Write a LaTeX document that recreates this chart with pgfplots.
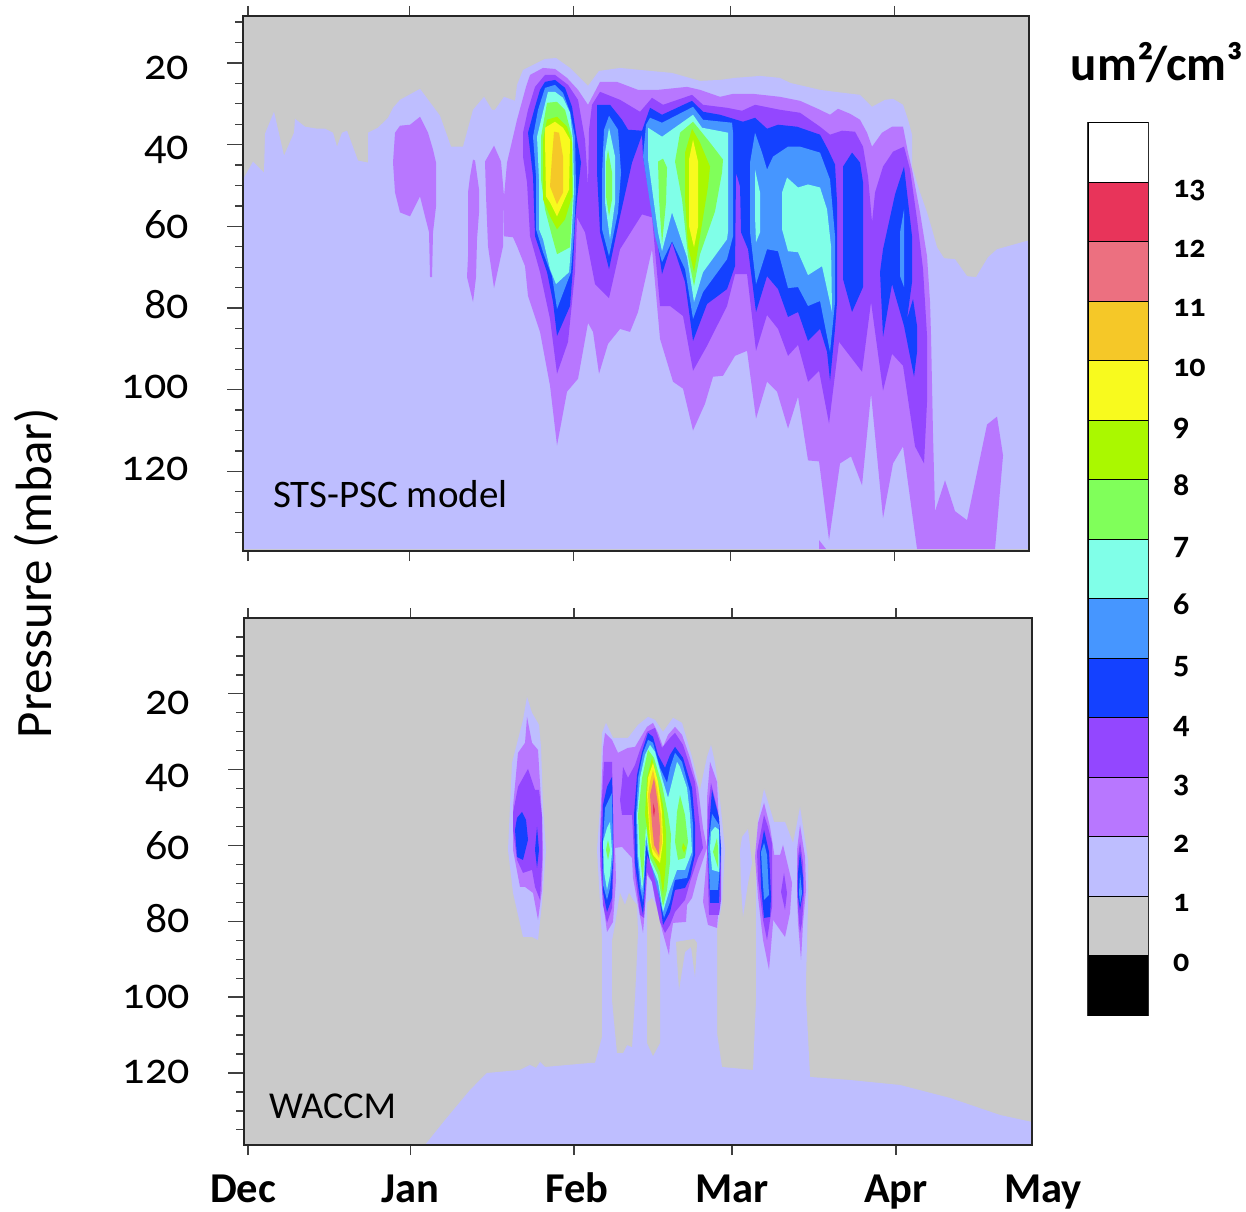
\documentclass[border=0pt]{standalone}
\usepackage{pgfplots}
\pgfplotsset{compat=1.18}
\usepackage{fontspec}
\setmainfont[Numbers=OldStyle]{Carlito}
\definecolor{c0}{HTML}{000000}
\definecolor{c1}{HTML}{CACACA}
\definecolor{c2}{HTML}{BEBEFF}
\definecolor{c3}{HTML}{B877FF}
\definecolor{c4}{HTML}{9347FF}
\definecolor{c5}{HTML}{1441FF}
\definecolor{c6}{HTML}{4696FF}
\definecolor{c7}{HTML}{80FFE8}
\definecolor{c8}{HTML}{80FF5A}
\definecolor{c9}{HTML}{AAF800}
\definecolor{c10}{HTML}{F8FA1E}
\definecolor{c11}{HTML}{F5C828}
\definecolor{c12}{HTML}{EC7080}
\definecolor{c13}{HTML}{E8345A}
\definecolor{c14}{HTML}{FFFFFF}
\definecolor{tk}{HTML}{404040}
\newcommand{\fs}[1]{\fontsize{#1}{#1}\selectfont}
\newcommand{\rb}[2]{\raisebox{#1pt}{#2}}
\pgfplotsset{
  lv/.style={fill=c#1,draw=none,no markers,forget plot},
  panel/.style={scale only axis,clip=true,axis line style={line width=1.3pt,color=black!85},
    tick style={line width=1.3pt,color=tk},tick align=outside},
  ypanel/.style={ytick={20,40,60,80,100,120},
    minor ytick={10,15,25,30,35,45,50,55,65,70,75,85,90,95,105,110,115,125,130,135},
    ytick pos=left,xtick=\empty,major tick length=16pt,minor tick length=8pt,y dir=reverse,
    yticklabel style={font=\fs{44},anchor=base east,inner sep=0pt,xshift=-38pt,yshift=-15pt}},
  xpanel/.style={ytick=\empty,xtick pos=both,major tick length=10pt,xticklabels={},y dir=reverse,
    axis background/.style={fill=none}}
}
\begin{document}
\begin{tikzpicture}[x=1pt,y=1pt]
\useasboundingbox (0,0) rectangle (1246,1211);
% ---------- upper panel: coordinates digitised as (px,py), mapped to days and mbar by the filters
\begin{axis}[at={(243pt,660pt)},anchor=south west,width=786pt,height=535pt,panel,ypanel,
  yticklabels={\rb{-2}{20},\rb{0}{40},\rb{3}{60},\rb{5}{80},\rb{6}{100},\rb{6}{120}},
  xmin=-0.94,xmax=146.25,ymin=8.5,ymax=139.5,
  axis background/.style={fill=c1},
  x filter/.expression={(x-248)/5.34},y filter/.expression={20+(y-63)/4.1}]
\addplot[lv=2] coordinates {(243,180)(253,162)(264,173)(265,134)(274,112)(284,156)(294,133)(295,119)(305,127)(317,129)(325,129)(333,133)(337,147)(342,133)(347,131)(358,161)(368,163)(368,133)(378,128)(388,118)(393,108)(400,100)(420,89)(440,116)(451,147)(463,147)(473,110)(484,97)(492,110)(495,110)(504,97)(515,101)(517,85)(523,70)(545,59)(556,58)(570,68)(588,86)(599,71)(620,68)(640,70)(672,73)(700,81)(720,80)(735,78)(760,76)(780,78)(790,83)(820,90)(835,92)(860,95)(872,107)(885,100)(893,99)(903,105)(908,120)(912,135)(912,167)(920,193)(927,213)(932,230)(937,248)(944,259)(955,260)(967,277)(976,278)(988,258)(997,250)(1029,241)(1029,551)(243,551)};
\addplot[lv=3] coordinates {(400,126)(410,125)(420,117)(428,133)(433,150)(436,163)(436,207)(433,233)(432,278)(430,278)(429,233)(420,197)(410,217)(400,213)(395,193)(393,163)(395,133)};
\addplot[lv=3] coordinates {(473,160)(475,161)(479,190)(479,213)(477,240)(476,278)(473,303)(467,278)(468,257)(468,193)(470,177)};
\addplot[lv=3] coordinates {(494,146)(501,162)(504,197)(503,247)(494,289)(488,247)(486,197)(485,162)};
\addplot[lv=3] coordinates {(507,163)(517,120)(526,87)(530,75)(543,68)(555,69)(567,78)(578,90)(588,105)(600,82)(617,82)(638,90)(658,90)(687,87)(700,90)(720,97)(733,94)(753,94)(780,97)(800,101)(820,110)(830,115)(838,109)(850,114)(860,120)(867,133)(872,147)(882,133)(892,127)(903,127)(908,153)(912,170)(920,213)(927,257)(930,303)(931,337)(933,437)(935,513)(945,482)(955,513)(967,522)(987,426)(997,418)(1003,457)(995,551)(917,551)(903,448)(893,465)(883,520)(871,395)(862,487)(851,458)(840,465)(829,542)(819,463)(808,462)(798,398)(788,430)(777,393)(767,383)(756,420)(747,352)(735,357)(723,377)(713,378)(705,405)(693,432)(683,390)(673,383)(660,340)(652,250)(638,313)(630,333)(620,330)(608,345)(599,375)(593,333)(588,324)(578,380)(567,393)(557,447)(550,387)(540,333)(528,297)(525,267)(517,247)(513,238)(504,237)(504,197)};
\addplot[lv=3] coordinates {(819,542)(826,551)(819,551)};
\addplot[lv=4] coordinates {(545,75)(555,75)(568,85)(578,100)(585,140)(588,187)(589,130)(592,105)(600,92)(620,100)(640,112)(652,98)(663,105)(692,95)(703,105)(727,108)(742,111)(755,105)(780,110)(800,113)(820,127)(830,135)(842,131)(855,132)(863,147)(868,177)(872,223)(875,193)(883,167)(893,152)(904,147)(910,170)(917,220)(923,270)(927,337)(927,403)(924,465)(915,448)(903,367)(892,355)(883,392)(871,303)(862,373)(839,343)(829,425)(819,372)(808,383)(798,346)(788,357)(778,330)(767,316)(756,352)(747,275)(735,275)(727,307)(707,347)(693,372)(683,317)(670,307)(660,307)(652,218)(642,215)(620,250)(609,299)(595,285)(585,233)(577,218)(575,273)(568,343)(557,375)(550,320)(540,273)(530,237)(527,183)(523,157)(523,133)(528,110)(535,87)};
\addplot[lv=5] coordinates {(545,82)(555,80)(565,88)(572,107)(577,140)(581,163)(577,200)(575,223)(573,267)(570,307)(557,337)(553,303)(547,273)(535,237)(533,177)(528,133)(535,107)(540,90)};
\addplot[lv=5] coordinates {(597,105)(610,105)(622,120)(628,130)(642,131)(650,108)(662,115)(692,101)(703,112)(720,115)(743,122)(755,118)(767,129)(778,125)(797,127)(820,135)(828,150)(835,165)(837,203)(837,303)(835,330)(830,382)(827,353)(820,330)(808,342)(798,313)(788,318)(778,290)(767,277)(756,313)(748,250)(741,233)(740,187)(736,173)(735,267)(727,290)(707,305)(693,342)(685,283)(672,243)(662,275)(657,240)(643,157)(642,135)(632,163)(620,217)(609,270)(600,233)(597,173)};
\addplot[lv=5] coordinates {(852,153)(860,163)(863,183)(863,288)(852,313)(843,280)(843,167)};
\addplot[lv=5] coordinates {(904,167)(912,237)(912,283)(907,320)(913,300)(917,327)(917,353)(914,378)(904,327)(892,285)(883,338)(880,273)(883,250)(895,195)};
\addplot[lv=6] coordinates {(545,88)(555,85)(563,93)(570,112)(575,137)(576,190)(574,233)(571,273)(557,310)(552,277)(543,253)(536,230)(536,177)(533,137)(538,110)};
\addplot[lv=6] coordinates {(609,116)(618,130)(621,173)(618,213)(609,257)(602,230)(602,173)(604,130)};
\addplot[lv=6] coordinates {(650,118)(662,123)(693,107)(703,120)(732,123)(733,133)(733,237)(727,260)(703,293)(693,320)(685,270)(672,242)(662,263)(655,237)(643,157)(646,125)};
\addplot[lv=6] coordinates {(755,133)(762,153)(767,170)(773,157)(788,147)(800,147)(820,153)(830,180)(835,237)(835,303)(830,353)(820,302)(808,307)(798,288)(788,289)(778,252)(767,250)(756,285)(750,233)(750,163)};
\addplot[lv=6] coordinates {(904,210)(904,288)(900,277)(900,233)};
\addplot[lv=7] coordinates {(548,92)(555,92)(563,98)(570,113)(573,140)(574,190)(571,248)(569,273)(556,285)(550,270)(543,240)(539,230)(539,180)(537,137)(543,112)};
\addplot[lv=7] coordinates {(609,128)(615,157)(615,203)(610,240)(605,203)(605,153)};
\addplot[lv=7] coordinates {(648,128)(662,137)(693,115)(702,128)(728,133)(728,232)(727,240)(703,273)(694,303)(687,258)(672,213)(662,252)(658,233)(648,160)};
\addplot[lv=7] coordinates {(755,170)(760,193)(760,233)(756,243)(755,217)};
\addplot[lv=7] coordinates {(787,178)(798,188)(808,185)(820,188)(827,210)(831,247)(832,313)(822,267)(808,276)(798,253)(788,252)(782,230)(782,193)};
\addplot[lv=8] coordinates {(547,103)(557,102)(565,110)(572,137)(573,193)(570,248)(557,255)(552,237)(545,210)(541,180)(541,137)};
\addplot[lv=8] coordinates {(608,150)(612,173)(612,200)(609,217)(606,197)(606,163)};
\addplot[lv=8] coordinates {(658,162)(663,159)(667,168)(666,203)(662,245)(659,200)};
\addplot[lv=8] coordinates {(693,122)(702,133)(710,143)(723,160)(722,173)(715,212)(700,255)(694,287)(688,257)(682,200)(675,162)(680,133)};
\addplot[lv=9] coordinates {(547,120)(557,117)(567,127)(572,143)(572,197)(565,220)(557,230)(550,217)(543,200)(543,140)};
\addplot[lv=9] coordinates {(692,129)(700,143)(710,167)(708,187)(700,237)(694,273)(688,247)(685,200)(685,153)};
\addplot[lv=10] coordinates {(545,128)(555,122)(563,128)(570,140)(569,190)(557,217)(550,203)(546,197)(545,140)};
\addplot[lv=10] coordinates {(693,140)(698,162)(698,227)(694,248)(689,227)(689,160)};
\addplot[lv=11] coordinates {(554,132)(559,133)(563,157)(563,193)(557,205)(550,187)(552,157)};
\end{axis}
\begin{axis}[at={(243pt,660pt)},anchor=south west,width=786pt,height=535pt,panel,xpanel,
  xmin=-0.94,xmax=146.25,ymin=8.5,ymax=139.5,xtick={0,30.3,60.9,90.4,121}]
\end{axis}
\node[anchor=base west,inner sep=0pt,font=\fs{39}] at (273,703) {STS-PSC model};
% ---------- lower panel
\begin{axis}[at={(244pt,66pt)},anchor=south west,width=788pt,height=527pt,panel,ypanel,
  yticklabels={\rb{-6}{20},\rb{-3}{40},\rb{1}{60},\rb{4}{80},\rb{4}{100},\rb{4}{120}},
  minor ytick={5,10,15,25,30,35,45,50,55,65,70,75,85,90,95,105,110,115,125,130,135},
  xmin=-0.747,xmax=146.4,ymin=0,ymax=139,
  axis background/.style={fill=c1},
  x filter/.expression={(x-248)/5.355},y filter/.expression={20+(y-694)/3.79}]
\addplot[lv=2] coordinates {(527,697)(532,713)(539,725)(541,747)(543,807)(546,850)(542,903)(538,940)(532,937)(523,937)(513,893)(508,850)(512,763)(523,720)};
\addplot[lv=2] coordinates {(425,1145)(445,1120)(470,1090)(487,1073)(520,1070)(530,1065)(536,1068)(540,1062)(545,1067)(590,1063)(595,1063)(602,1037)(602,938)(600,903)(597,850)(600,807)(602,733)(606,723)(613,738)(628,738)(638,725)(648,717)(655,720)(663,732)(673,718)(682,723)(692,757)(700,790)(707,757)(711,745)(715,763)(720,800)(725,850)(722,903)(717,930)(717,1033)(722,1067)(753,1070)(756,1000)(756,857)(755,857)(758,820)(764,789)(774,822)(785,822)(793,843)(797,823)(800,807)(808,860)(808,903)(806,980)(806,997)(810,1077)(850,1080)(900,1085)(950,1098)(1000,1115)(1032,1122)(1032,1145)};
\addplot[lv=2] coordinates {(740,850)(742,837)(748,829)(752,863)(748,883)(743,917)(741,887)};
% gaps of the lower tongue
\addplot[lv=1] coordinates {(612,941)(615,925)(620,893)(625,905)(629,893)(633,900)(637,905)(638,933)(635,997)(632,1047)(627,1045)(623,1053)(617,1053)(612,1000)};
\addplot[lv=1] coordinates {(647,903)(652,898)(660,912)(660,1043)(653,1056)(647,1043)};
\addplot[lv=1] coordinates {(676,942)(694,939)(697,943)(695,977)(691,947)(685,952)(679,990)(677,960)};
% level 2-3
\addplot[lv=3] coordinates {(527,717)(532,743)(538,750)(542,817)(543,850)(542,890)(538,920)(533,893)(525,887)(520,887)(513,850)(513,807)(518,753)(525,743)};
\addplot[lv=3] coordinates {(605,733)(612,740)(618,753)(628,748)(635,747)(647,727)(653,723)(658,733)(663,747)(668,735)(675,727)(682,735)(690,758)(698,788)(703,828)(707,848)(698,875)(692,898)(687,905)(686,922)(673,923)(670,942)(669,955)(662,930)(655,900)(652,882)(647,875)(646,895)(643,933)(637,900)(633,878)(632,858)(622,847)(615,848)(616,880)(613,922)(607,932)(603,902)(600,865)(600,832)(603,748)};
\addplot[lv=3] coordinates {(710,762)(717,782)(720,848)(720,890)(717,928)(708,925)(703,902)(707,855)(707,798)};
\addplot[lv=3] coordinates {(764,803)(770,827)(774,853)(773,923)(769,970)(763,940)(758,897)(755,857)(758,823)};
\addplot[lv=3] coordinates {(783,845)(792,883)(790,913)(785,937)(773,920)(773,855)(780,855)};
\addplot[lv=3] coordinates {(800,825)(805,857)(806,890)(803,923)(801,960)(798,923)(797,890)(797,850)};
% level 3-4
\addplot[lv=4] coordinates {(528,769)(535,790)(539,790)(542,817)(542,863)(540,900)(535,887)(532,870)(523,873)(517,860)(513,830)(513,813)(518,787)};
\addplot[lv=4] coordinates {(604,762)(612,762)(613,815)(614,855)(612,908)(607,923)(603,905)(600,848)(602,798)};
\addplot[lv=4] coordinates {(647,732)(655,728)(662,748)(670,738)(675,733)(683,745)(695,782)(700,828)(703,848)(698,858)(690,882)(685,900)(675,912)(670,925)(665,933)(660,922)(652,882)(647,872)(644,918)(640,915)(635,875)(632,815)(622,815)(620,800)(622,782)(623,767)(628,778)(635,765)(640,750)};
\addplot[lv=4] coordinates {(711,783)(718,812)(721,848)(721,900)(719,915)(709,915)(707,848)(708,808)};
\addplot[lv=4] coordinates {(764,815)(768,827)(772,843)(772,907)(767,940)(763,920)(758,880)(757,852)};
\addplot[lv=4] coordinates {(784,873)(787,893)(785,910)(781,892)};
\addplot[lv=4] coordinates {(800,842)(803,863)(804,893)(802,923)(800,933)(798,910)(797,887)(798,857)};
% level 4-5
\addplot[lv=5] coordinates {(522,812)(526,820)(528,840)(523,860)(517,857)(515,830)(517,818)};
\addplot[lv=5] coordinates {(537,827)(539,850)(537,868)(535,850)};
\addplot[lv=5] coordinates {(612,777)(613,815)(613,858)(612,898)(607,912)(603,892)(602,848)(603,805)(607,787)};
\addplot[lv=5] coordinates {(648,733)(653,737)(658,755)(665,768)(670,755)(675,747)(683,758)(692,788)(695,825)(695,855)(690,878)(685,888)(675,890)(670,912)(663,925)(660,902)(655,873)(647,855)(646,872)(643,915)(640,900)(635,865)(634,815)(637,775)(642,752)};
\addplot[lv=5] coordinates {(712,790)(719,818)(721,848)(719,903)(710,903)(708,848)(710,815)};
\addplot[lv=5] coordinates {(764,830)(769,852)(771,897)(770,917)(764,918)(761,887)(760,853)};
\addplot[lv=5] coordinates {(800,852)(803,877)(803,893)(800,910)(798,897)(798,873)};
% level 5-6
\addplot[lv=6] coordinates {(612,793)(613,858)(610,888)(607,900)(603,885)(603,842)(605,808)};
\addplot[lv=6] coordinates {(648,740)(653,743)(660,768)(667,783)(670,768)(675,753)(682,762)(690,792)(693,825)(693,855)(687,878)(675,880)(670,902)(664,918)(658,892)(652,868)(646,845)(644,888)(643,902)(640,888)(637,855)(636,815)(638,778)(643,753)};
\addplot[lv=6] coordinates {(712,814)(719,825)(720,865)(718,890)(710,890)(708,848)};
\addplot[lv=6] coordinates {(764,843)(767,855)(769,895)(764,900)(762,870)(761,852)};
\addplot[lv=6] coordinates {(800,873)(802,893)(800,905)(799,893)};
% level 6-7
\addplot[lv=7] coordinates {(610,822)(612,852)(610,875)(607,890)(604,872)(603,842)(607,828)};
\addplot[lv=7] coordinates {(650,745)(655,752)(662,778)(668,798)(672,782)(677,762)(680,767)(687,788)(690,815)(692,852)(685,870)(677,870)(669,892)(663,912)(658,882)(650,862)(646,835)(644,875)(642,892)(638,855)(637,815)(640,778)(645,755)};
\addplot[lv=7] coordinates {(715,827)(719,830)(719,872)(712,870)(710,848)(711,832)};
% level 7-8
\addplot[lv=8] coordinates {(608,840)(610,850)(608,860)(606,850)};
\addplot[lv=8] coordinates {(648,750)(654,758)(662,785)(668,815)(671,835)(670,862)(667,890)(663,907)(658,875)(650,858)(646,825)(644,858)(643,885)(640,855)(638,815)(642,778)};
\addplot[lv=8] coordinates {(680,795)(685,815)(688,842)(685,858)(678,860)(675,842)(677,812)};
\addplot[lv=8] coordinates {(717,838)(718,848)(718,868)(713,852)};
% level 8-9 and above
\addplot[lv=9] coordinates {(652,758)(657,778)(663,805)(666,832)(666,862)(663,895)(660,872)(650,852)(647,828)(645,815)(647,778)};
\addplot[lv=9] coordinates {(683,843)(686,848)(684,853)(682,848)};
\addplot[lv=10] coordinates {(653,763)(658,782)(662,812)(663,842)(660,863)(653,855)(650,842)(647,795)(648,778)};
\addplot[lv=11] coordinates {(653,770)(657,788)(661,815)(662,843)(659,858)(652,848)(650,828)(648,795)(650,782)};
\addplot[lv=12] coordinates {(654,778)(658,805)(660,828)(659,855)(654,845)(652,825)(650,795)};
\addplot[lv=13] coordinates {(653,803)(655,810)(654,817)(653,812)};
\end{axis}
\begin{axis}[at={(244pt,66pt)},anchor=south west,width=788pt,height=527pt,panel,xpanel,
  xmin=-0.747,xmax=146.4,ymin=0,ymax=139,xtick={0,30.4,60.9,90.4,121}]
\end{axis}
\node[anchor=base west,inner sep=0pt,font=\fs{38}] at (269,93) {WACCM};
% ---------- month names
\foreach \m/\x in {Dec/243,Jan/410,Feb/577,Mar/732,Apr/896,May/1043}
  \node[anchor=base,inner sep=0pt,font=\fs{42.5}\bfseries] at (\x,9) {\m};
\node[rotate=90,inner sep=0pt,font=\fs{51}] at (36,638) {Pressure (mbar)};
\node[anchor=base,inner sep=0pt,font=\fs{49}\bfseries] at (1157,1130) {um²/cm³};
% ---------- colour key
\begin{axis}[at={(1088pt,196pt)},anchor=south west,width=60pt,height=892pt,scale only axis,
  xmin=0,xmax=1,ymin=-1,ymax=14,xtick=\empty,ytick={0,1,...,13},
  yticklabels={0,1,2,3,4,5,6,7,8,9,10,11,12,13},ytick pos=right,major tick length=0pt,
  axis line style={line width=1.6pt,color=black!80},
  yticklabel style={font=\fs{32}\bfseries,anchor=base west,inner sep=0pt,xshift=25pt,yshift=-15.5pt}]
\pgfplotsinvokeforeach{0,...,14}{
  \pgfmathtruncatemacro{\lo}{#1-1}
  \addplot[fill=c#1,draw=black,line width=1pt,no markers,forget plot] coordinates {(0,\lo)(1,\lo)(1,#1)(0,#1)} --cycle;
}
\end{axis}
\end{tikzpicture}
\end{document}
